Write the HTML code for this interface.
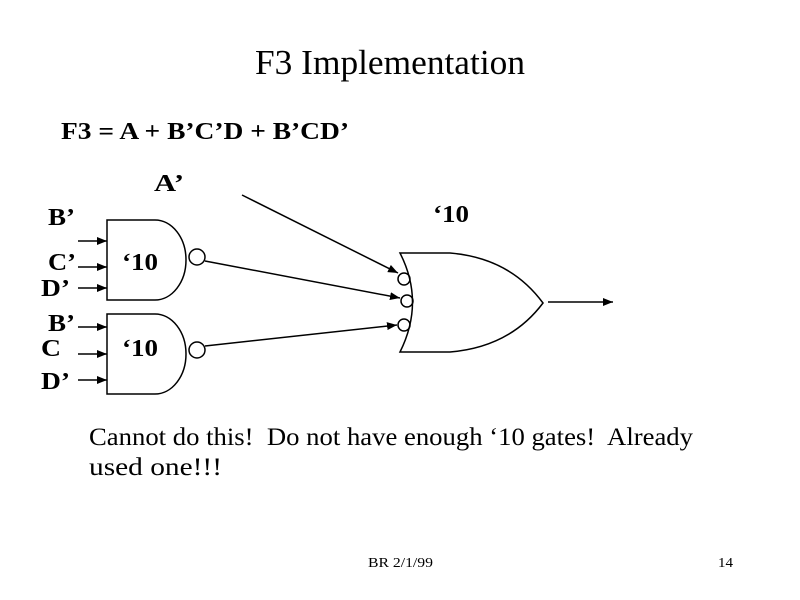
<!DOCTYPE html>
<html><head><meta charset="utf-8"><style>
html,body{margin:0;padding:0;background:#fff;}
svg{display:block;}
text{font-family:"Liberation Serif",serif;fill:#000;white-space:pre;}
.b{font-weight:bold;font-size:24px;}
</style></head><body>
<svg width="800" height="600" viewBox="0 0 800 600" xmlns="http://www.w3.org/2000/svg">
<defs><marker id="ah" markerWidth="10" markerHeight="8" refX="10" refY="4" orient="auto" markerUnits="userSpaceOnUse"><path d="M0,0 L10,4 L0,8 z" fill="#000"/></marker></defs>
<text x="255" y="74" font-size="35" textLength="270" lengthAdjust="spacingAndGlyphs">F3 Implementation</text>
<text x="61" y="139" class="b" textLength="288" lengthAdjust="spacingAndGlyphs">F3 = A + B’C’D + B’CD’</text>
<text x="154" y="191" class="b" textLength="30" lengthAdjust="spacingAndGlyphs">A’</text>
<text x="433" y="222" class="b" textLength="36" lengthAdjust="spacingAndGlyphs">‘10</text>
<text x="48" y="225" class="b" textLength="27" lengthAdjust="spacingAndGlyphs">B’</text>
<text x="48" y="270" class="b" textLength="28" lengthAdjust="spacingAndGlyphs">C’</text>
<text x="41" y="296" class="b" textLength="29" lengthAdjust="spacingAndGlyphs">D’</text>
<text x="48" y="331" class="b" textLength="27" lengthAdjust="spacingAndGlyphs">B’</text>
<text x="41" y="356" class="b" textLength="20" lengthAdjust="spacingAndGlyphs">C</text>
<text x="41" y="389" class="b" textLength="29" lengthAdjust="spacingAndGlyphs">D’</text>
<text x="122" y="270" class="b" textLength="36" lengthAdjust="spacingAndGlyphs">‘10</text>
<text x="122" y="356" class="b" textLength="36" lengthAdjust="spacingAndGlyphs">‘10</text>
<g stroke="#000" stroke-width="1.5" fill="none">
<path d="M107,220 H155 A31,40 0 0 1 155,300 H107 Z"/>
<path d="M107,314 H155 A31,40 0 0 1 155,394 H107 Z"/>
<circle cx="197" cy="257" r="8"/>
<circle cx="197" cy="350" r="8"/>
<path d="M400,253 H450 Q510,258 543,303 Q510,347 450,352 H400 Q425,302 400,253 Z"/>
<circle cx="404" cy="279" r="6"/>
<circle cx="407" cy="301" r="6"/>
<circle cx="404" cy="325" r="6"/>
<line x1="78" y1="241" x2="107" y2="241" marker-end="url(#ah)"/>
<line x1="78" y1="267" x2="107" y2="267" marker-end="url(#ah)"/>
<line x1="78" y1="288" x2="107" y2="288" marker-end="url(#ah)"/>
<line x1="78" y1="327" x2="107" y2="327" marker-end="url(#ah)"/>
<line x1="78" y1="354" x2="107" y2="354" marker-end="url(#ah)"/>
<line x1="78" y1="380" x2="107" y2="380" marker-end="url(#ah)"/>
<line x1="242" y1="195" x2="398" y2="273" marker-end="url(#ah)"/>
<line x1="205" y1="261" x2="400" y2="298" marker-end="url(#ah)"/>
<line x1="205" y1="346" x2="397" y2="325" marker-end="url(#ah)"/>
<line x1="548" y1="302" x2="613" y2="302" marker-end="url(#ah)"/>
</g>
<text x="89" y="445" font-size="25" textLength="604" lengthAdjust="spacingAndGlyphs">Cannot do this!  Do not have enough ‘10 gates!  Already</text>
<text x="89" y="475" font-size="25" textLength="133" lengthAdjust="spacingAndGlyphs">used one!!!</text>
<text x="368" y="567" font-size="14" textLength="65" lengthAdjust="spacingAndGlyphs">BR 2/1/99</text>
<text x="718" y="567" font-size="14" textLength="15" lengthAdjust="spacingAndGlyphs">14</text>
</svg>
</body></html>
